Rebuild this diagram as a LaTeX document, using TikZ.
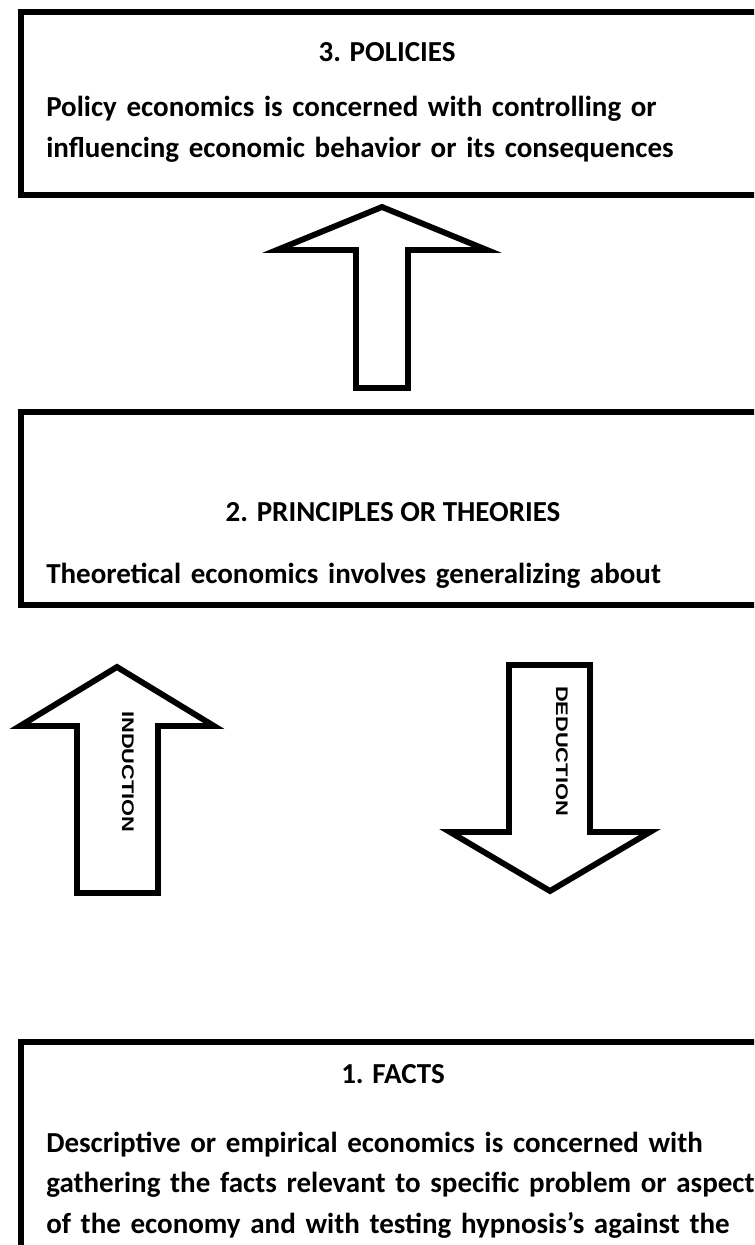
\documentclass[tikz,border=0pt]{standalone}
\usepackage{fontspec}
\setmainfont{Carlito}
\newfontfamily\arrowfont{Liberation Sans}

\begin{document}
\begin{tikzpicture}[x=.75pt,y=-.75pt,
  box/.style={draw,line width=4.8pt},
  blockarrow/.style={draw,line width=4.4pt,line join=miter,fill=white},
  title/.style={anchor=base,inner sep=0pt,font=\fontsize{21.75}{30.4}\selectfont\bfseries},
  body/.style={anchor=base west,inner sep=0pt,align=left,text width=560pt,
    font=\fontsize{21.75}{30.4}\selectfont\bfseries},
  tag/.style={rotate=-90,inner sep=0pt,font=\arrowfont\fontsize{12.6}{14}\selectfont\bfseries}]
\useasboundingbox (0,0) rectangle (754,1245);
\clip (0,0) rectangle (754,1245);
% the three boxes
\draw[box] (21,12) rectangle (775,195);
\draw[box] (21,412) rectangle (775,605);
\draw[box] (21,1042) rectangle (775,1300);
\node[title] (policies) at (387,62) {3. POLICIES};
\node[body] (policytext) at (46,117) {Policy economics is concerned with controlling or\\
  influencing economic behavior or its consequences};
\node[title] (theories) at (393,521) {2. PRINCIPLES OR THEORIES};
\node[body] (theorytext) at (46,583) {Theoretical economics involves generalizing about};
\node[title] (facts) at (393,1083) {1. FACTS};
\node[body] (facttext) at (46,1152) {Descriptive or empirical economics is concerned with\\
  gathering the facts relevant to specific problem or aspect\\
  of the economy and with testing hypnosis’s against the};
% arrows
\draw[blockarrow] (356,388)--(356,250)--(277,250)--(382,207)--(487,250)--(408,250)--(408,388)--cycle;
\draw[blockarrow] (77,893)--(77,726)--(20,726)--(117,667)--(214,726)--(158,726)--(158,893)--cycle;
\draw[blockarrow] (509,665)--(509,832)--(450,832)--(550,891)--(650,832)--(590,832)--(590,665)--cycle;
\node[tag] (induction) at (128,772) {\scalebox{1.3}[1]{INDUCTION}};
\node[tag] (deduction) at (562,751) {\scalebox{1.3}[1]{DEDUCTION}};
\end{tikzpicture}
\end{document}
